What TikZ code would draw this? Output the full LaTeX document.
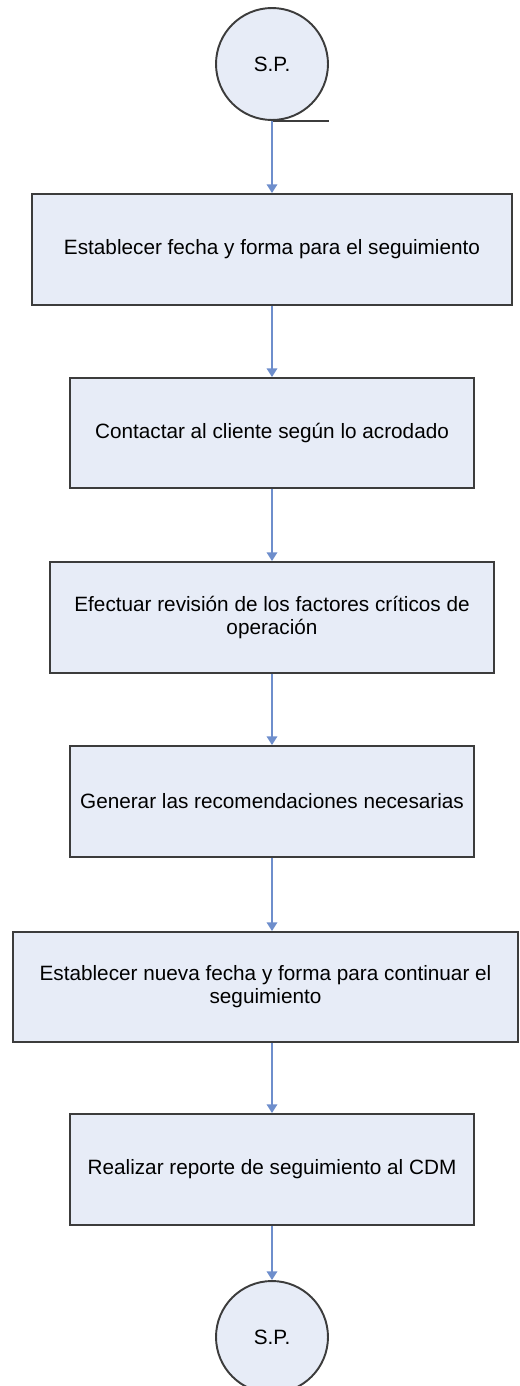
\documentclass[tikz,border=0pt]{standalone}
\usepackage{fontspec}
\setmainfont{Liberation Sans}
\usetikzlibrary{arrows.meta}
\definecolor{cajafondo}{RGB}{231,236,247}
\definecolor{cajaborde}{RGB}{60,60,60}
\definecolor{flecha}{RGB}{110,142,204}
\begin{document}
\begin{tikzpicture}[x=0.02cm,y=-0.02cm,
	caja/.style={draw=cajaborde,line width=1.1pt,fill=cajafondo,rectangle,align=center,inner sep=2pt,font=\fontsize{11.8}{13.2}\selectfont},
	conector/.style={draw=cajaborde,line width=1.1pt,fill=cajafondo,circle,minimum size=2.24cm,inner sep=0pt,font=\fontsize{11.8}{13.2}\selectfont},
	flujo/.style={draw=flecha,line width=1.1pt,-{Triangle[width=6pt,length=5pt]}}]
	\useasboundingbox (0,0) rectangle (520,1386);
	\clip (0,0) rectangle (520,1386);
	\node[conector] (sp1) at (272,64) {S.P.};
	\draw[cajaborde,line width=1.1pt] (sp1.south) -- (sp1.south -| sp1.east);
	\node[caja,minimum width=9.6cm,minimum height=2.22cm] (b1) at (272,249.5) {Establecer fecha y forma para el seguimiento};
	\node[caja,minimum width=8.1cm,minimum height=2.2cm] (b2) at (272,433) {Contactar al cliente según lo acrodado};
	\node[caja,minimum width=8.88cm,minimum height=2.22cm] (b3) at (272,617.5) {Efectuar revisión de los factores críticos de\\operación};
	\node[caja,minimum width=8.1cm,minimum height=2.22cm] (b4) at (272,801.5) {Generar las recomendaciones necesarias};
	\node[caja,minimum width=10.1cm,minimum height=2.2cm] (b5) at (265.5,987) {Establecer nueva fecha y forma para continuar el\\seguimiento};
	\node[caja,minimum width=8.1cm,minimum height=2.22cm] (b6) at (272,1169.5) {Realizar reporte de seguimiento al CDM};
	\node[conector] (sp2) at (272,1337) {S.P.};
	% flechas
	\draw[flujo] (sp1) -- (b1);
	\draw[flujo] (b1) -- (b2);
	\draw[flujo] (b2) -- (b3);
	\draw[flujo] (b3) -- (b4);
	\draw[flujo] (b4) -- (b4.south |- b5.north);
	\draw[flujo] (b5.south -| b6.north) -- (b6);
	\draw[flujo] (b6) -- (sp2);
\end{tikzpicture}
\end{document}
